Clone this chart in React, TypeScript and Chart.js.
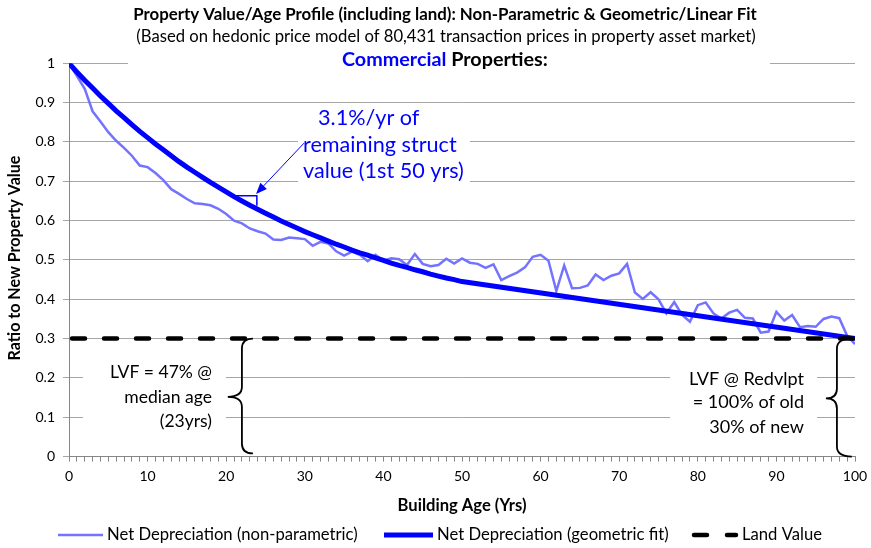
import React, { useEffect, useRef } from "react";
import { Chart, registerables } from "chart.js";

Chart.register(...registerables);

const FONT = "Lato, 'Open Sans', sans-serif";

const titleLine1 = "Property Value/Age Profile (including land): Non-Parametric & Geometric/Linear Fit";
const titleLine2 = "(Based on hedonic price model of 80,431 transaction prices in property asset market)";
const titleWordBlue = "Commercial";
const titleWordBlack = " Properties:";
const xAxisTitle = "Building Age (Yrs)";
const yAxisTitle = "Ratio to New Property Value";

const seriesNames = [
  "Net Depreciation (non-parametric)",
  "Net Depreciation (geometric fit)",
  "Land Value",
];

const slopeNote = ["3.1%/yr of", "remaining struct", "value (1st 50 yrs)"];
const leftNote = ["LVF = 47% @", "median age", "(23yrs)"];
const rightNote = ["LVF @ Redvlpt", "= 100% of old", "30% of new"];

const ages = Array.from({ length: 101 }, (_, i) => i);

const nonParametric = [
  1.0, 0.968, 0.935, 0.878, 0.852, 0.825, 0.803, 0.785, 0.765, 0.74,
  0.736, 0.721, 0.703, 0.68, 0.668, 0.655, 0.644, 0.642, 0.639, 0.63,
  0.617, 0.6, 0.593, 0.58, 0.573, 0.567, 0.552, 0.551, 0.557, 0.555,
  0.553, 0.536, 0.546, 0.542, 0.522, 0.511, 0.521, 0.513, 0.497, 0.513,
  0.498, 0.504, 0.502, 0.487, 0.515, 0.49, 0.484, 0.487, 0.503, 0.491,
  0.504, 0.493, 0.49, 0.48, 0.489, 0.449, 0.459, 0.468, 0.481, 0.508,
  0.513, 0.498, 0.421, 0.486, 0.428, 0.429, 0.435, 0.463, 0.449, 0.46,
  0.466, 0.49, 0.417, 0.401, 0.418, 0.4, 0.364, 0.393, 0.36, 0.343,
  0.385, 0.392, 0.364, 0.351, 0.366, 0.373, 0.353, 0.351, 0.315, 0.318,
  0.368, 0.346, 0.36, 0.329, 0.332, 0.33, 0.35, 0.356, 0.352, 0.307,
  0.286,
];

const geometricAges = [
  0, 1, 2, 3, 4, 5, 6, 7, 8, 9, 10, 11, 12, 13, 14, 15, 16, 17, 18, 19, 20,
  21, 22, 23, 24, 25, 26, 27, 28, 29, 30, 31, 32, 33, 34, 35, 36, 37, 38, 39,
  40, 41, 42, 43, 44, 45, 46, 47, 48, 49, 50, 100,
];
const geometricFit = [
  1.0, 0.978, 0.957, 0.937, 0.917, 0.898, 0.879, 0.862, 0.844, 0.827, 0.811,
  0.795, 0.78, 0.765, 0.75, 0.736, 0.723, 0.71, 0.697, 0.685, 0.673,
  0.661, 0.65, 0.639, 0.629, 0.619, 0.609, 0.599, 0.59, 0.581, 0.572,
  0.564, 0.556, 0.548, 0.54, 0.533, 0.525, 0.518, 0.512, 0.505, 0.499,
  0.492, 0.486, 0.481, 0.475, 0.47, 0.464, 0.459, 0.454, 0.45, 0.445,
  0.3,
];

const landAges = [0, 100];
const landValue = [0.3, 0.3];

const yTickLabels = ["0", "0.1", "0.2", "0.3", "0.4", "0.5", "0.6", "0.7", "0.8", "0.9", "1"];
const xTickLabels = ["0", "10", "20", "30", "40", "50", "60", "70", "80", "90", "100"];

const LIGHT = "#7373ff";
const BLUE = "#0000ff";

function fitSize(ctx: CanvasRenderingContext2D, text: string, target: number, weight: string) {
  ctx.font = `${weight} 100px ${FONT}`;
  const w = ctx.measureText(text).width;
  return (100 * target) / w;
}

function drawText(
  ctx: CanvasRenderingContext2D,
  text: string,
  x: number,
  y: number,
  size: number,
  weight: string,
  color: string,
  align: CanvasTextAlign
) {
  ctx.font = `${weight} ${size}px ${FONT}`;
  ctx.fillStyle = color;
  ctx.textAlign = align;
  ctx.textBaseline = "middle";
  ctx.fillText(text, x, y);
}

function drawBrace(
  ctx: CanvasRenderingContext2D,
  xv: number,
  xEnd: number,
  xCusp: number,
  yTop: number,
  yBottom: number,
  yCusp: number
) {
  const r = 10;
  ctx.beginPath();
  ctx.moveTo(xEnd, yTop);
  ctx.quadraticCurveTo(xv, yTop, xv, yTop + r);
  ctx.lineTo(xv, yCusp - r);
  ctx.quadraticCurveTo(xv, yCusp, xCusp, yCusp);
  ctx.quadraticCurveTo(xv, yCusp, xv, yCusp + r);
  ctx.lineTo(xv, yBottom - r);
  ctx.quadraticCurveTo(xv, yBottom, xEnd, yBottom);
  ctx.stroke();
}

const decorPlugin = {
  id: "decor",
  beforeDatasetsDraw(chart: any) {
    const ctx: CanvasRenderingContext2D = chart.ctx;
    ctx.save();
    ctx.fillStyle = "#ffffff";
    ctx.fillRect(128, 50, 642, 24);
    ctx.fillRect(298, 108, 172, 84);
    ctx.fillRect(83, 346, 143, 96);
    ctx.fillRect(670, 346, 147, 96);
    ctx.restore();
  },
  afterDraw(chart: any) {
    const ctx: CanvasRenderingContext2D = chart.ctx;
    const xs = chart.scales.x;
    const ys = chart.scales.y;
    const px = (v: number) => xs.getPixelForValue(v);
    const py = (v: number) => ys.getPixelForValue(v);
    ctx.save();

    // Titles
    let s = fitSize(ctx, titleLine1, 624, "bold");
    drawText(ctx, titleLine1, 445, 15, s, "bold", "#000", "center");
    s = fitSize(ctx, titleLine2, 620, "normal");
    drawText(ctx, titleLine2, 446, 37, s, "normal", "#000", "center");
    s = fitSize(ctx, titleWordBlue + titleWordBlack, 206, "bold");
    ctx.font = `bold ${s}px ${FONT}`;
    const wb = ctx.measureText(titleWordBlue).width;
    const startX = 342;
    drawText(ctx, titleWordBlue, startX, 60, s, "bold", BLUE, "left");
    drawText(ctx, titleWordBlack, startX + wb, 60, s, "bold", "#000", "left");

    // Axis titles
    s = fitSize(ctx, xAxisTitle, 129, "bold");
    drawText(ctx, xAxisTitle, 462, 506, s, "bold", "#000", "center");
    s = fitSize(ctx, yAxisTitle, 205, "bold");
    ctx.save();
    ctx.translate(15, 258);
    ctx.rotate(-Math.PI / 2);
    drawText(ctx, yAxisTitle, 0, 0, s, "bold", "#000", "center");
    ctx.restore();

    // Slope note
    s = fitSize(ctx, slopeNote[2], 161, "normal");
    drawText(ctx, slopeNote[0], 318, 118, s, "normal", BLUE, "left");
    drawText(ctx, slopeNote[1], 303, 145, s, "normal", BLUE, "left");
    drawText(ctx, slopeNote[2], 303, 171, s, "normal", BLUE, "left");

    // Slope triangle
    ctx.strokeStyle = BLUE;
    ctx.lineWidth = 1.5;
    ctx.beginPath();
    ctx.moveTo(px(21.1), py(0.663));
    ctx.lineTo(px(23.9), py(0.663));
    ctx.lineTo(px(23.9), py(0.638));
    ctx.stroke();

    // Arrow
    const ax0 = px(29.9), ay0 = py(0.797);
    const ax1 = px(23.8), ay1 = py(0.668);
    const ang = Math.atan2(ay1 - ay0, ax1 - ax0);
    const hl = 11, hw = 4.5;
    const bx = ax1 - hl * Math.cos(ang), by = ay1 - hl * Math.sin(ang);
    ctx.lineWidth = 1;
    ctx.beginPath();
    ctx.moveTo(ax0, ay0);
    ctx.lineTo(bx, by);
    ctx.stroke();
    ctx.fillStyle = BLUE;
    ctx.beginPath();
    ctx.moveTo(ax1, ay1);
    ctx.lineTo(bx + hw * Math.sin(ang), by - hw * Math.cos(ang));
    ctx.lineTo(bx - hw * Math.sin(ang), by + hw * Math.cos(ang));
    ctx.closePath();
    ctx.fill();

    // Left note and brace
    s = fitSize(ctx, leftNote[0], 102, "normal");
    drawText(ctx, leftNote[0], 212, 372, s, "normal", "#000", "right");
    drawText(ctx, leftNote[1], 212, 397, s, "normal", "#000", "right");
    drawText(ctx, leftNote[2], 212, 421, s, "normal", "#000", "right");
    ctx.strokeStyle = "#000";
    ctx.lineWidth = 1.8;
    drawBrace(ctx, px(22.0), px(23.4), px(20.2), py(0.3), py(0.008), py(0.152));

    // Right note and brace
    s = fitSize(ctx, rightNote[0], 115, "normal");
    drawText(ctx, rightNote[0], 804, 379, s, "normal", "#000", "right");
    drawText(ctx, rightNote[1], 804, 402, s, "normal", "#000", "right");
    drawText(ctx, rightNote[2], 804, 427, s, "normal", "#000", "right");
    drawBrace(ctx, px(97.7), px(99.6), px(96.3), py(0.3), py(0.0), py(0.148));

    // Legend
    const ly = 535;
    ctx.lineCap = "butt";
    ctx.strokeStyle = LIGHT;
    ctx.lineWidth = 2.5;
    ctx.beginPath();
    ctx.moveTo(58, ly);
    ctx.lineTo(103, ly);
    ctx.stroke();
    s = fitSize(ctx, seriesNames[0], 251, "normal");
    drawText(ctx, seriesNames[0], 107, ly, s, "normal", "#000", "left");
    ctx.strokeStyle = BLUE;
    ctx.lineWidth = 5;
    ctx.beginPath();
    ctx.moveTo(384, ly);
    ctx.lineTo(433, ly);
    ctx.stroke();
    drawText(ctx, seriesNames[1], 437, ly, s, "normal", "#000", "left");
    ctx.strokeStyle = "#000";
    ctx.lineWidth = 4.5;
    ctx.lineCap = "round";
    ctx.beginPath();
    ctx.moveTo(694, ly);
    ctx.lineTo(707, ly);
    ctx.moveTo(727, ly);
    ctx.lineTo(736, ly);
    ctx.stroke();
    drawText(ctx, seriesNames[2], 742, ly, s, "normal", "#000", "left");

    ctx.restore();
  },
};

export default function App() {
  const ref = useRef<HTMLCanvasElement | null>(null);

  useEffect(() => {
    document.body.style.margin = "0";
    const canvas = ref.current;
    if (!canvas) return;
    const chart = new Chart(canvas, {
      type: "line",
      data: {
        datasets: [
          {
            label: seriesNames[0],
            data: ages.map((a, i) => ({ x: a, y: nonParametric[i] })),
            borderColor: LIGHT,
            borderWidth: 2.5,
            pointRadius: 0,
            tension: 0,
            order: 3,
          },
          {
            label: seriesNames[1],
            data: geometricAges.map((a, i) => ({ x: a, y: geometricFit[i] })),
            borderColor: BLUE,
            borderWidth: 5,
            pointRadius: 0,
            tension: 0,
            order: 2,
          },
          {
            label: seriesNames[2],
            data: landAges.map((a, i) => ({ x: a, y: landValue[i] })),
            borderColor: "#000000",
            borderWidth: 4.5,
            borderDash: [13, 19],
            borderDashOffset: -3,
            borderCapStyle: "round",
            pointRadius: 0,
            order: 1,
          },
        ],
      },
      options: {
        animation: false,
        responsive: true,
        maintainAspectRatio: false,
        layout: { padding: { top: 63.3, right: 16, left: 0, bottom: 0 } },
        plugins: {
          legend: { display: false },
          title: { display: false },
          tooltip: { enabled: false },
        },
        scales: {
          x: {
            type: "linear",
            min: 0,
            max: 100,
            afterFit: (sc: any) => {
              sc.height = 91.4;
              sc.paddingLeft = 0;
              sc.paddingRight = 0;
            },
            ticks: {
              stepSize: 1,
              autoSkip: false,
              maxTicksLimit: 1000,
              maxRotation: 0,
              minRotation: 0,
              padding: 6,
              color: "#000",
              font: { family: FONT, size: 14 },
              callback: (v: any) => (Number(v) % 10 === 0 ? xTickLabels[Number(v) / 10] : ""),
            },
            grid: {
              drawOnChartArea: false,
              drawTicks: true,
              tickLength: 5,
              color: "#868686",
            },
            border: { color: "#868686" },
          },
          y: {
            type: "linear",
            min: 0,
            max: 1,
            afterFit: (sc: any) => {
              sc.width = 69;
              sc.paddingTop = 0;
              sc.paddingBottom = 0;
            },
            ticks: {
              stepSize: 0.1,
              padding: 8,
              color: "#000",
              font: { family: FONT, size: 14 },
              callback: (_v: any, i: number) => yTickLabels[i],
            },
            grid: { color: "#a6a6a6", tickLength: 6 },
            border: { color: "#868686" },
          },
        },
      },
      plugins: [decorPlugin],
    } as any);
    return () => chart.destroy();
  }, []);

  return (
    <div style={{ width: 871, height: 548, position: "relative" }}>
      <canvas ref={ref} />
    </div>
  );
}
